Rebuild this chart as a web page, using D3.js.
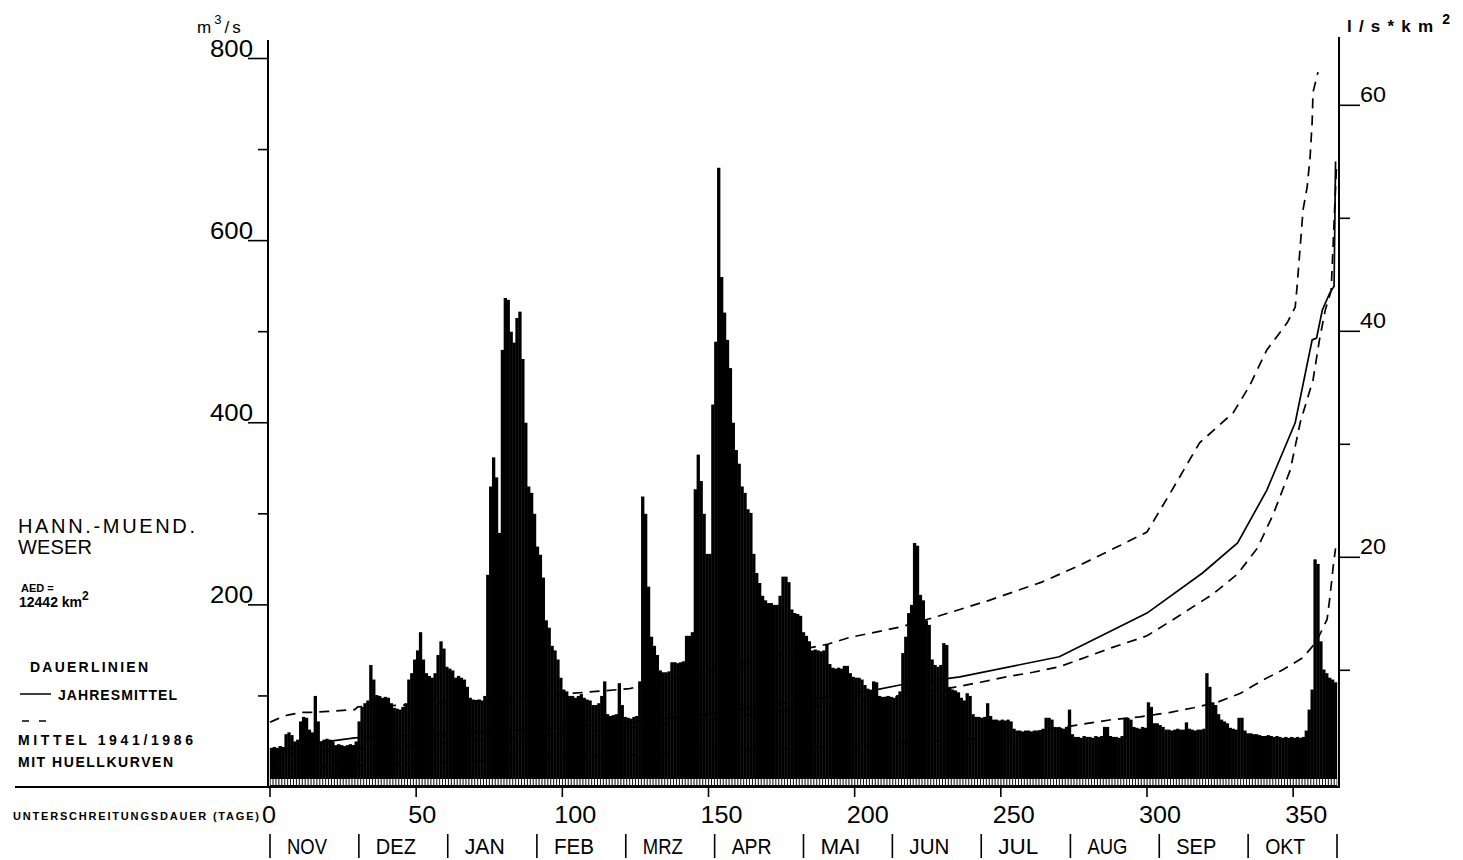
<!DOCTYPE html>
<html>
<head>
<meta charset="utf-8">
<script src="https://cdn.jsdelivr.net/npm/d3@7"></script>
<style>
  html, body { margin: 0; padding: 0; background: #fff; }
  svg { display: block; }
  text { font-family: "Liberation Sans", Arial, sans-serif; fill: #000; }
</style>
</head>
<body>
<svg id="chart" width="1463" height="860"></svg>
<script>
// Highest daily discharge of each day of the hydrological year (m3/s), day 0 = 1 Nov
const dailyMax = [
  43, 44, 43, 45, 44, 58, 60, 57, 50, 52,
  72, 77, 76, 63, 60, 100, 72, 50, 52, 53,
  52, 50, 46, 47, 46, 45, 46, 47, 46, 50,
  72, 88, 92, 95, 134, 118, 101, 100, 98, 99,
  98, 92, 87, 86, 85, 88, 92, 118, 125, 140,
  150, 170, 140, 125, 122, 120, 125, 145, 160, 152,
  132, 130, 128, 120, 122, 120, 118, 110, 98, 96,
  95, 96, 95, 100, 233, 330, 362, 340, 279, 480,
  537, 535, 500, 488, 515, 522, 470, 400, 330, 323,
  300, 264, 255, 230, 183, 175, 155, 150, 140, 120,
  107, 105, 100, 100, 98, 100, 102, 98, 96, 95,
  90, 90, 92, 100, 116, 80, 78, 79, 80, 114,
  90, 77, 76, 75, 77, 78, 116, 319, 300, 220,
  165, 155, 145, 128, 126, 126, 127, 137, 137, 136,
  137, 138, 166, 166, 170, 327, 365, 336, 300, 256,
  256, 420, 489, 680, 560, 521, 491, 460, 400, 370,
  355, 330, 323, 305, 301, 256, 235, 224, 210, 205,
  202, 202, 200, 200, 210, 231, 231, 225, 195, 191,
  190, 188, 170, 166, 160, 150, 151, 150, 149, 150,
  157, 135, 131, 130, 131, 130, 133, 133, 125, 121,
  120, 120, 118, 112, 108, 106, 116, 115, 100, 99,
  99, 100, 99, 98, 100, 105, 147, 165, 191, 200,
  268, 265, 211, 205, 183, 178, 140, 134, 132, 134,
  158, 156, 110, 107, 106, 104, 98, 95, 103, 100,
  80, 77, 77, 76, 77, 92, 78, 74, 74, 73,
  74, 73, 74, 72, 64, 62, 62, 61, 62, 62,
  61, 62, 61, 62, 64, 76, 76, 74, 66, 65,
  65, 64, 66, 85, 58, 55, 55, 54, 56, 55,
  55, 54, 56, 55, 56, 66, 66, 56, 55, 55,
  54, 56, 76, 76, 74, 66, 65, 64, 66, 65,
  93, 88, 70, 70, 68, 66, 63, 63, 62, 63,
  64, 63, 63, 71, 64, 63, 62, 63, 63, 64,
  125, 110, 93, 90, 80, 74, 72, 70, 65, 64,
  63, 76, 76, 62, 59, 59, 58, 58, 57, 56,
  56, 57, 56, 55, 56, 55, 54, 55, 54, 55,
  54, 55, 54, 55, 62, 85, 107, 250, 245, 160,
  129, 125, 120, 118, 115
];

// Duration curves: [days not exceeded, discharge m3/s]
const upperEnvelope = [
  [0, 71], [2, 74], [6, 79], [11, 82], [14, 82], [20, 83], [29, 85], [30, 88],
  [47, 90], [72, 95], [104, 103], [123, 108], [150, 128], [185, 153], [191, 157],
  [198, 164], [216, 176], [228, 187], [246, 205], [264, 225], [276, 242], [290, 264],
  [300, 280], [308, 323], [318, 378], [329.5, 411], [335, 440], [341, 480], [348, 510],
  [350.7, 527], [351.3, 548], [352.4, 593], [353.4, 634], [354.8, 659], [355.8, 692],
  [356.5, 730], [356.8, 763], [358.5, 785]
];
const annualMean = [
  [0, 38], [10, 44], [17.5, 49], [29, 54], [60, 58], [100, 65], [120, 70], [150, 80],
  [180, 94], [200, 103], [207.6, 107], [215.5, 112], [236, 121], [270, 143], [300, 191],
  [319, 235], [331, 268], [341, 326], [350.7, 400], [356.5, 491], [358, 493], [360, 524],
  [362.6, 543], [364, 550], [364.5, 687]
];
const longTermMean = [
  [0, 35], [50, 46], [100, 58], [150, 74], [200, 93], [231.6, 108], [243, 115],
  [252, 121], [261, 126], [270, 132], [288, 153], [300, 166], [311, 188], [322.6, 212],
  [331, 234], [337.7, 262], [343, 298], [349, 348], [352.4, 400], [356.8, 447],
  [359, 491], [361, 524], [363, 545], [364.8, 680]
];
const lowerEnvelope = [
  [0, 20], [100, 32], [200, 45], [250, 55], [276, 68], [288, 74], [297.6, 77],
  [308, 82], [316, 87], [324, 93], [332, 103], [340, 118], [346.6, 129], [353.4, 142],
  [358, 160], [361.6, 184], [362.6, 209], [363.7, 242], [364.5, 262]
];

// Axis ticks and labels
const dayTicks = [0, 50, 100, 150, 200, 250, 300, 350];
const qLabelTicks = [200, 400, 600, 800];
const qMinorTicks = [100, 300, 500, 700];
const qsLabelTicks = [20, 40, 60];
const qsMinorTicks = [10, 30, 50];
const monthNames = ["NOV", "DEZ", "JAN", "FEB", "MRZ", "APR", "MAI", "JUN", "JUL", "AUG", "SEP", "OKT"];
const monthBounds = [0, 30.4, 60.8, 91.3, 121.7, 152.1, 182.5, 212.9, 243.3, 273.8, 304.2, 334.6, 365];

const svg = d3.select("#chart");
svg.append("rect").attr("width", 1463).attr("height", 860).attr("fill", "#fff");

const x = d3.scaleLinear().domain([0, 365]).range([270, 1337]);
const y = d3.scaleLinear().domain([0, 800]).range([787, 58.5]);
const yR = d3.scaleLinear().domain([0, 60]).range([783.3, 105.3]);

// Duration curves (drawn beneath the daily bars)
const line = d3.line().x(d => x(d[0])).y(d => y(d[1]));
const curves = [
  { data: upperEnvelope, dash: "10,7" },
  { data: longTermMean, dash: "10,7" },
  { data: lowerEnvelope, dash: "10,7" },
  { data: annualMean, dash: null }
];
svg.append("g").selectAll("path").data(curves).join("path")
  .attr("d", d => line(d.data))
  .attr("fill", "none")
  .attr("stroke", "#000")
  .attr("stroke-width", 1.7)
  .attr("stroke-dasharray", d => d.dash);

// Daily bars
const bars = svg.append("g");
bars.selectAll("rect.day").data(dailyMax).join("rect").attr("class", "day")
  .attr("x", (d, i) => x(i) - 0.2)
  .attr("width", (d, i) => x(i + 1) - x(i) + 0.4)
  .attr("y", d => y(d))
  .attr("height", d => y(0) - y(d))
  .attr("fill", "#000");
// light strip of bar bases just above the baseline
bars.selectAll("rect.base").data(dailyMax).join("rect").attr("class", "base")
  .attr("x", (d, i) => x(i) + 0.6)
  .attr("width", (d, i) => x(i + 1) - x(i) - 1.0)
  .attr("y", y(0) - 8)
  .attr("height", 6)
  .attr("fill", "#fff");

// Axis lines
const axes = svg.append("g").attr("stroke", "#000").attr("fill", "none");
axes.append("line").attr("x1", 268).attr("x2", 268).attr("y1", 40).attr("y2", 788).attr("stroke-width", 2);
axes.append("line").attr("x1", 1339).attr("x2", 1339).attr("y1", 37).attr("y2", 788).attr("stroke-width", 2);
axes.append("line").attr("x1", 15).attr("x2", 1339).attr("y1", 787).attr("y2", 787).attr("stroke-width", 2);

// Left axis (m3/s)
axes.selectAll(".lmaj").data(qLabelTicks).join("line").attr("class", "lmaj")
  .attr("x1", 248).attr("x2", 268).attr("y1", d => y(d)).attr("y2", d => y(d)).attr("stroke-width", 1.6);
axes.selectAll(".lmin").data(qMinorTicks).join("line").attr("class", "lmin")
  .attr("x1", 258).attr("x2", 268).attr("y1", d => y(d)).attr("y2", d => y(d)).attr("stroke-width", 1.6);
svg.append("g").selectAll("text").data(qLabelTicks).join("text")
  .attr("x", 253).attr("y", d => y(d) - 2)
  .attr("text-anchor", "end")
  .attr("font-size", 24)
  .attr("textLength", 43).attr("lengthAdjust", "spacingAndGlyphs")
  .text(d => d);

// Right axis (l/s*km2)
axes.selectAll(".rmaj").data(qsLabelTicks).join("line").attr("class", "rmaj")
  .attr("x1", 1339).attr("x2", 1360).attr("y1", d => yR(d)).attr("y2", d => yR(d)).attr("stroke-width", 1.6);
axes.selectAll(".rmin").data(qsMinorTicks).join("line").attr("class", "rmin")
  .attr("x1", 1339).attr("x2", 1350).attr("y1", d => yR(d)).attr("y2", d => yR(d)).attr("stroke-width", 1.6);
svg.append("g").selectAll("text").data(qsLabelTicks).join("text")
  .attr("x", 1360).attr("y", d => yR(d) - 3)
  .attr("font-size", 22)
  .attr("textLength", 26).attr("lengthAdjust", "spacingAndGlyphs")
  .text(d => d);

// Bottom axis (days)
axes.selectAll(".xt").data(dayTicks).join("line").attr("class", "xt")
  .attr("x1", d => x(d)).attr("x2", d => x(d)).attr("y1", 787).attr("y2", 797).attr("stroke-width", 1.6);
svg.append("g").selectAll("text").data(dayTicks).join("text")
  .attr("x", d => x(d) - 8).attr("y", 823)
  .attr("font-size", 24)
  .attr("textLength", d => String(d).length * 14)
  .attr("lengthAdjust", "spacingAndGlyphs")
  .text(d => d);

// Month row
const mg = svg.append("g");
mg.selectAll("line").data(monthBounds).join("line")
  .attr("x1", d => x(d)).attr("x2", d => x(d))
  .attr("y1", 834).attr("y2", 858)
  .attr("stroke", "#000").attr("stroke-width", 1.6);
mg.selectAll("text").data(monthNames).join("text")
  .attr("x", (d, i) => x(monthBounds[i]) + 17).attr("y", 854)
  .attr("font-size", 22)
  .attr("textLength", 40).attr("lengthAdjust", "spacingAndGlyphs")
  .text(d => d);

// Units
const u1 = svg.append("text").attr("x", 197).attr("y", 33).attr("font-size", 17).attr("letter-spacing", 3);
u1.append("tspan").text("m");
u1.append("tspan").attr("dy", -9).attr("font-size", 13).text("3");
u1.append("tspan").attr("dy", 9).text("/s");
const u2 = svg.append("text").attr("x", 1347).attr("y", 32).attr("font-size", 17).attr("font-weight", "bold");
u2.append("tspan").attr("textLength", 86).attr("lengthAdjust", "spacing").text("l/s*km");
u2.append("tspan").attr("dx", 2).attr("dy", -8).attr("font-size", 14).text("2");

// Station block
const info = svg.append("g");
info.append("text").attr("x", 18).attr("y", 533).attr("font-size", 20)
  .attr("textLength", 177).attr("lengthAdjust", "spacing").text("HANN.-MUEND.");
info.append("text").attr("x", 18).attr("y", 554).attr("font-size", 20)
  .attr("textLength", 74).attr("lengthAdjust", "spacing").text("WESER");
info.append("text").attr("x", 21).attr("y", 592).attr("font-size", 11).attr("font-weight", "bold")
  .text("AED =");
const area = info.append("text").attr("x", 19).attr("y", 607).attr("font-size", 14).attr("font-weight", "bold");
area.append("tspan").text("12442 km");
area.append("tspan").attr("dy", -7).attr("font-size", 12).text("2");
info.append("text").attr("x", 30).attr("y", 672).attr("font-size", 14).attr("font-weight", "bold")
  .attr("textLength", 118).attr("lengthAdjust", "spacing").text("DAUERLINIEN");
info.append("line").attr("x1", 20).attr("x2", 51).attr("y1", 694).attr("y2", 694)
  .attr("stroke", "#000").attr("stroke-width", 1.5);
info.append("text").attr("x", 58).attr("y", 700).attr("font-size", 14).attr("font-weight", "bold")
  .attr("textLength", 119).attr("lengthAdjust", "spacing").text("JAHRESMITTEL");
info.append("line").attr("x1", 22).attr("x2", 48).attr("y1", 721).attr("y2", 721)
  .attr("stroke", "#000").attr("stroke-width", 1.5).attr("stroke-dasharray", "7,10");
info.append("text").attr("x", 18).attr("y", 745).attr("font-size", 14).attr("font-weight", "bold")
  .attr("textLength", 175).attr("lengthAdjust", "spacing").text("MITTEL  1941/1986");
info.append("text").attr("x", 18).attr("y", 767).attr("font-size", 14).attr("font-weight", "bold")
  .attr("textLength", 155).attr("lengthAdjust", "spacing").text("MIT HUELLKURVEN");
info.append("text").attr("x", 13).attr("y", 820).attr("font-size", 11).attr("font-weight", "bold")
  .attr("textLength", 246).attr("lengthAdjust", "spacing").text("UNTERSCHREITUNGSDAUER (TAGE)");
</script>
</body>
</html>
